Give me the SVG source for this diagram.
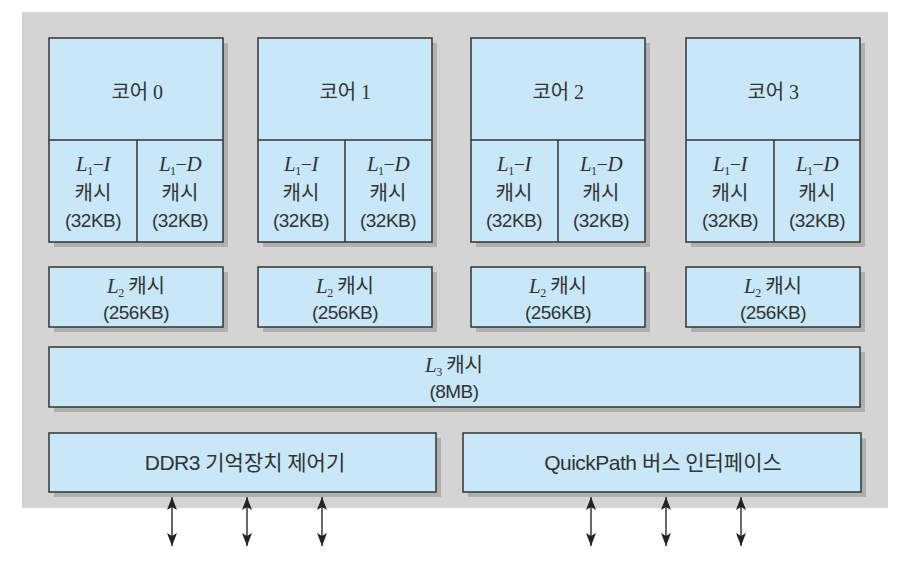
<svg xmlns="http://www.w3.org/2000/svg" width="905" height="579" viewBox="0 0 905 579">
<style>
.box{fill:#c8e7f8;stroke:#333;stroke-width:1.5}
.sh{fill:#b0b0b0}
.dv{stroke:#333;stroke-width:1.5}
.t{font-family:"Liberation Sans","Noto Sans CJK KR",sans-serif;font-size:19px;fill:#333;text-anchor:middle;letter-spacing:-0.5px}
.k{font-family:"Noto Sans CJK KR",sans-serif;font-size:20px;letter-spacing:0}
.m{font-family:"Liberation Serif",serif;font-style:italic;font-size:21px}
.n{font-family:"Liberation Serif",serif;font-size:20px}
.s{font-family:"Liberation Serif",serif;font-size:12px}
.big{font-size:21px}
.ar{stroke:#444;stroke-width:1.6;fill:none;marker-start:url(#ah);marker-end:url(#ah)}
</style>
<defs>
<marker id="ah" viewBox="0 0 13 10" refX="13" refY="5" markerWidth="13" markerHeight="10" markerUnits="userSpaceOnUse" orient="auto-start-reverse">
<path d="M0,0 L13,5 L0,10 L3,5 Z" fill="#222"/>
</marker>
</defs>
<rect x="0" y="0" width="905" height="579" fill="#fff"/>
<rect x="22" y="12" width="866" height="496" fill="#d4d4d4"/>

<g id="core0">
<rect class="sh" x="54" y="43" width="174" height="204"/>
<rect class="box" x="49" y="38" width="174" height="204"/>
<line class="dv" x1="49" y1="140" x2="223" y2="140"/>
<line class="dv" x1="137" y1="140" x2="137" y2="242"/>
<text class="t" x="137" y="99"><tspan class="k">코어</tspan> <tspan class="n">0</tspan></text>
<text class="t" x="93" y="171"><tspan class="m">L</tspan><tspan class="s" dy="4">1</tspan><tspan class="n" dy="-4">−</tspan><tspan class="m">I</tspan></text>
<text class="t k" x="93" y="200">캐시</text>
<text class="t" x="93" y="227">(32KB)</text>
<text class="t" x="180" y="171"><tspan class="m">L</tspan><tspan class="s" dy="4">1</tspan><tspan class="n" dy="-4">−</tspan><tspan class="m">D</tspan></text>
<text class="t k" x="180" y="200">캐시</text>
<text class="t" x="180" y="227">(32KB)</text>
</g>

<g id="core1">
<rect class="sh" x="263" y="43" width="174" height="204"/>
<rect class="box" x="258" y="38" width="174" height="204"/>
<line class="dv" x1="258" y1="140" x2="432" y2="140"/>
<line class="dv" x1="345" y1="140" x2="345" y2="242"/>
<text class="t" x="345" y="99"><tspan class="k">코어</tspan> <tspan class="n">1</tspan></text>
<text class="t" x="301" y="171"><tspan class="m">L</tspan><tspan class="s" dy="4">1</tspan><tspan class="n" dy="-4">−</tspan><tspan class="m">I</tspan></text>
<text class="t k" x="301" y="200">캐시</text>
<text class="t" x="301" y="227">(32KB)</text>
<text class="t" x="388" y="171"><tspan class="m">L</tspan><tspan class="s" dy="4">1</tspan><tspan class="n" dy="-4">−</tspan><tspan class="m">D</tspan></text>
<text class="t k" x="388" y="200">캐시</text>
<text class="t" x="388" y="227">(32KB)</text>
</g>

<g id="core2">
<rect class="sh" x="476" y="43" width="174" height="204"/>
<rect class="box" x="471" y="38" width="174" height="204"/>
<line class="dv" x1="471" y1="140" x2="645" y2="140"/>
<line class="dv" x1="558" y1="140" x2="558" y2="242"/>
<text class="t" x="558" y="99"><tspan class="k">코어</tspan> <tspan class="n">2</tspan></text>
<text class="t" x="514" y="171"><tspan class="m">L</tspan><tspan class="s" dy="4">1</tspan><tspan class="n" dy="-4">−</tspan><tspan class="m">I</tspan></text>
<text class="t k" x="514" y="200">캐시</text>
<text class="t" x="514" y="227">(32KB)</text>
<text class="t" x="601" y="171"><tspan class="m">L</tspan><tspan class="s" dy="4">1</tspan><tspan class="n" dy="-4">−</tspan><tspan class="m">D</tspan></text>
<text class="t k" x="601" y="200">캐시</text>
<text class="t" x="601" y="227">(32KB)</text>
</g>

<g id="core3">
<rect class="sh" x="691" y="43" width="174" height="204"/>
<rect class="box" x="686" y="38" width="174" height="204"/>
<line class="dv" x1="686" y1="140" x2="860" y2="140"/>
<line class="dv" x1="774" y1="140" x2="774" y2="242"/>
<text class="t" x="773" y="99"><tspan class="k">코어</tspan> <tspan class="n">3</tspan></text>
<text class="t" x="730" y="171"><tspan class="m">L</tspan><tspan class="s" dy="4">1</tspan><tspan class="n" dy="-4">−</tspan><tspan class="m">I</tspan></text>
<text class="t k" x="730" y="200">캐시</text>
<text class="t" x="730" y="227">(32KB)</text>
<text class="t" x="817" y="171"><tspan class="m">L</tspan><tspan class="s" dy="4">1</tspan><tspan class="n" dy="-4">−</tspan><tspan class="m">D</tspan></text>
<text class="t k" x="817" y="200">캐시</text>
<text class="t" x="817" y="227">(32KB)</text>
</g>

<g id="l2_0">
<rect class="sh" x="54" y="272" width="174" height="60"/>
<rect class="box" x="49" y="267" width="174" height="60"/>
<text class="t" x="136" y="293"><tspan class="m">L</tspan><tspan class="s" dy="4">2</tspan><tspan class="k" dy="-4"> 캐시</tspan></text>
<text class="t" x="136" y="319">(256KB)</text>
</g>
<g id="l2_1">
<rect class="sh" x="263" y="272" width="174" height="60"/>
<rect class="box" x="258" y="267" width="174" height="60"/>
<text class="t" x="345" y="293"><tspan class="m">L</tspan><tspan class="s" dy="4">2</tspan><tspan class="k" dy="-4"> 캐시</tspan></text>
<text class="t" x="345" y="319">(256KB)</text>
</g>
<g id="l2_2">
<rect class="sh" x="476" y="272" width="174" height="60"/>
<rect class="box" x="471" y="267" width="174" height="60"/>
<text class="t" x="558" y="293"><tspan class="m">L</tspan><tspan class="s" dy="4">2</tspan><tspan class="k" dy="-4"> 캐시</tspan></text>
<text class="t" x="558" y="319">(256KB)</text>
</g>
<g id="l2_3">
<rect class="sh" x="691" y="272" width="174" height="60"/>
<rect class="box" x="686" y="267" width="174" height="60"/>
<text class="t" x="773" y="293"><tspan class="m">L</tspan><tspan class="s" dy="4">2</tspan><tspan class="k" dy="-4"> 캐시</tspan></text>
<text class="t" x="773" y="319">(256KB)</text>
</g>

<g id="l3">
<rect class="sh" x="54" y="352" width="811" height="60"/>
<rect class="box" x="49" y="347" width="811" height="60"/>
<text class="t" x="454" y="372"><tspan class="m">L</tspan><tspan class="s" dy="4">3</tspan><tspan class="k" dy="-4"> 캐시</tspan></text>
<text class="t" x="454" y="398">(8MB)</text>
</g>

<g id="ddr3">
<rect class="sh" x="54" y="438" width="387" height="59"/>
<rect class="box" x="49" y="433" width="387" height="59"/>
<text class="t big" x="245" y="470"><tspan>DDR3 </tspan><tspan class="k big">기억장치 제어기</tspan></text>
</g>

<g id="qpi">
<rect class="sh" x="468" y="438" width="398" height="59"/>
<rect class="box" x="463" y="433" width="398" height="59"/>
<text class="t big" x="663" y="470"><tspan>QuickPath </tspan><tspan class="k big">버스 인터페이스</tspan></text>
</g>

<g id="connectors">
<line class="ar" x1="172" y1="497" x2="172" y2="546"/>
<line class="ar" x1="247" y1="497" x2="247" y2="546"/>
<line class="ar" x1="322" y1="497" x2="322" y2="546"/>
<line class="ar" x1="591" y1="497" x2="591" y2="546"/>
<line class="ar" x1="666" y1="497" x2="666" y2="546"/>
<line class="ar" x1="741" y1="497" x2="741" y2="546"/>
</g>
</svg>
